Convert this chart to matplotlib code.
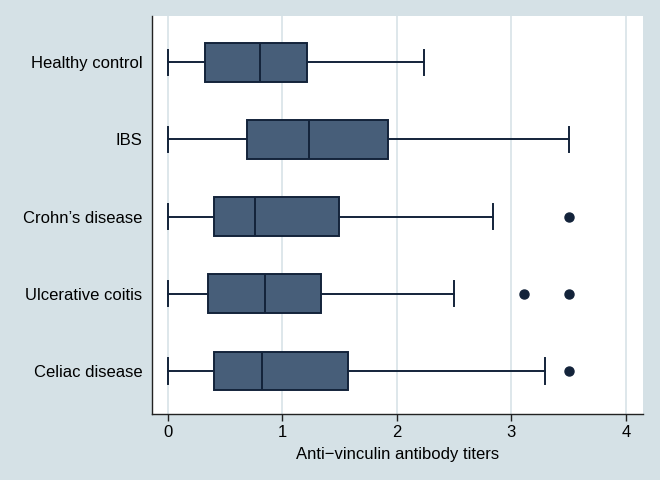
import matplotlib
matplotlib.use("Agg")
import matplotlib.pyplot as plt

categories = ["Healthy control", "IBS", "Crohn\u2019s disease", "Ulcerative coitis", "Celiac disease"]
whislo = [0.0, 0.0, 0.0, 0.0, 0.0]
q1 = [0.32, 0.69, 0.40, 0.35, 0.40]
med = [0.80, 1.23, 0.76, 0.85, 0.82]
q3 = [1.21, 1.92, 1.49, 1.34, 1.57]
whishi = [2.24, 3.50, 2.84, 2.50, 3.29]
fliers = [[], [], [3.5], [3.11, 3.5], [3.5]]

plt.rcParams['font.family'] = ['Liberation Sans', 'DejaVu Sans']
bg = "#d5e1e6"
fill = "#475e79"
edge = "#13233a"

fig = plt.figure(figsize=(6.6, 4.8), dpi=100, facecolor=bg)
ax = fig.add_axes([152/660, 1-414/480, (643-152)/660, (414-16)/480])
ax.set_facecolor("white")

n = len(categories)
positions = list(range(n, 0, -1))
stats = []
for i in range(n):
    stats.append(dict(whislo=whislo[i], q1=q1[i], med=med[i], q3=q3[i],
                      whishi=whishi[i], fliers=fliers[i], label=categories[i]))

ax.bxp(stats, positions=positions, vert=False, widths=0.5, patch_artist=True,
       showfliers=True,
       boxprops=dict(facecolor=fill, edgecolor=edge, linewidth=1.4),
       medianprops=dict(color=edge, linewidth=1.4),
       whiskerprops=dict(color=edge, linewidth=1.4),
       capprops=dict(color=edge, linewidth=1.4),
       capwidths=0.33,
       flierprops=dict(marker='o', markerfacecolor=edge, markeredgecolor=edge, markersize=6.5))

ax.set_xlim(-0.14, 4.15)
ax.set_ylim(0.44, 5.6)
ax.set_xticks([0, 1, 2, 3, 4])
ax.xaxis.grid(True, color="#d8e3e8", linewidth=1.2)
ax.set_axisbelow(True)
ax.tick_params(axis='y', length=0, labelsize=12, pad=7)
ax.tick_params(axis='x', length=5, width=1, labelsize=12, color="#222222", pad=3)
for s in ["top", "right"]:
    ax.spines[s].set_visible(False)
for s in ["left", "bottom"]:
    ax.spines[s].set_color("#222222")
    ax.spines[s].set_linewidth(1.0)
ax.set_xlabel("Anti\u2212vinculin antibody titers", fontsize=12, labelpad=5)

fig.savefig("out.png", dpi=100, facecolor=bg)
